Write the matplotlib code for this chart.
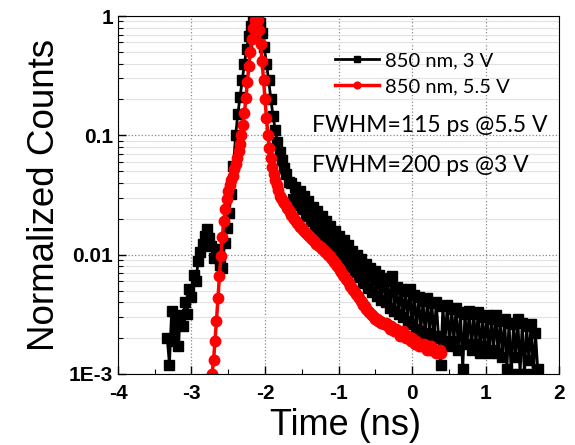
import numpy as np
import matplotlib.pyplot as plt
from matplotlib.ticker import FixedLocator, LogLocator, NullFormatter

plt.rcParams['font.family'] = ['Liberation Sans', 'DejaVu Sans']

# time grids (ns), constant bin width per trace
t_black_start, t_black_step = -3.33, 0.03
t_red_start, t_red_step = -2.72, 0.02

# 850 nm, 3 V  (normalized counts)
y_black = [
    0.0020, 0.0012, 0.0034, 0.0019, 0.0028, 0.0017, 0.0031, 0.0025, 0.0040, 0.0032,
    0.0052, 0.0044, 0.0068, 0.0060, 0.0088, 0.0105, 0.0122, 0.0142, 0.0165, 0.0138,
    0.0118, 0.0093, 0.0112, 0.0097, 0.0082, 0.0077, 0.0125, 0.0168, 0.0225, 0.0320,
    0.055, 0.100, 0.150, 0.210, 0.290, 0.400, 0.530, 0.680, 0.820, 0.950,
    1.000, 0.970, 0.880, 0.720, 0.550, 0.400, 0.290, 0.200, 0.145, 0.110,
    0.088, 0.073, 0.062, 0.053, 0.047, 0.041, 0.040, 0.029, 0.037, 0.026,
    0.034, 0.024, 0.031, 0.021, 0.028, 0.019, 0.025, 0.0175, 0.023, 0.0155,
    0.021, 0.0142, 0.0192, 0.0128, 0.0175, 0.0118, 0.0158, 0.0104, 0.0142, 0.0097,
    0.0132, 0.0086, 0.0120, 0.0079, 0.0108, 0.0071, 0.0100, 0.0065, 0.0092, 0.0058,
    0.0084, 0.0053, 0.0078, 0.0049, 0.0073, 0.0045, 0.0068, 0.0042, 0.0064, 0.0040,
    0.0060, 0.0036, 0.0066, 0.0034, 0.0054, 0.0032, 0.0052, 0.0030, 0.0050, 0.0028,
    0.0052, 0.0026, 0.0046, 0.0024, 0.0044, 0.0023, 0.0041, 0.0021, 0.0043, 0.0022,
    0.0039, 0.0020, 0.0040, 0.0021, 0.0012, 0.0037, 0.0019, 0.0038, 0.0017, 0.0035,
    0.0019, 0.0036, 0.0016, 0.0033, 0.0011, 0.0032, 0.0018, 0.0034, 0.0016, 0.0032,
    0.0018, 0.0033, 0.0015, 0.0030, 0.0017, 0.0031, 0.0015, 0.0029, 0.0016, 0.0031,
    0.0015, 0.0028, 0.0014, 0.0029, 0.0011, 0.0027, 0.0010, 0.0026, 0.0014, 0.0029,
    0.0010, 0.0027, 0.0010, 0.0025, 0.0013, 0.0026, 0.0010, 0.0022, 0.0011,
]

# 850 nm, 5.5 V  (normalized counts)
y_red = [
    0.0010, 0.0013, 0.0019, 0.0028, 0.0043, 0.0066, 0.0098, 0.0140, 0.0190, 0.0240,
    0.0290, 0.0340, 0.0380, 0.0420, 0.0460, 0.0520, 0.0580, 0.0650, 0.0740, 0.0850,
    0.100, 0.122, 0.155, 0.205, 0.280, 0.380, 0.500, 0.640, 0.800, 0.930,
    1.000, 0.920, 0.760, 0.580, 0.420, 0.290, 0.200, 0.140, 0.100, 0.078,
    0.064, 0.054, 0.047, 0.042, 0.038, 0.0345, 0.0310, 0.0296, 0.0283, 0.0271,
    0.0259, 0.0248, 0.0237, 0.0227, 0.0217, 0.0208, 0.0199, 0.0191, 0.0184, 0.0177,
    0.0171, 0.0166, 0.0161, 0.0156, 0.0151, 0.0147, 0.0143, 0.0139, 0.0135, 0.0131,
    0.0127, 0.0124, 0.0121, 0.0118, 0.0115, 0.0112, 0.0109, 0.0106, 0.0103, 0.0100,
    0.0097, 0.0093, 0.0090, 0.0086, 0.0083, 0.0080, 0.0077, 0.0074, 0.0071, 0.0068,
    0.0066, 0.0063, 0.0061, 0.0058, 0.0055, 0.0053, 0.0051, 0.0049, 0.0047, 0.0045,
    0.0043, 0.0041, 0.0040, 0.0038, 0.0037, 0.0035, 0.0034, 0.0033, 0.0032, 0.0031,
    0.0030, 0.0029, 0.0029, 0.0028, 0.0028, 0.0027, 0.0027, 0.0026, 0.0027, 0.0026,
    0.0025, 0.0024, 0.0025, 0.0024, 0.0023, 0.0024, 0.0023, 0.0022, 0.0021, 0.0022,
    0.0023, 0.0021, 0.0020, 0.0021, 0.0020, 0.0019, 0.0020, 0.0019, 0.0018, 0.0019,
    0.0018, 0.0017, 0.0018, 0.0017, 0.0018, 0.0017, 0.0016, 0.0017, 0.0016, 0.0017,
    0.0016, 0.0016, 0.0015, 0.0016, 0.0015, 0.0016, 0.0015,
]

t_black = t_black_start + t_black_step * np.arange(len(y_black))
t_red = t_red_start + t_red_step * np.arange(len(y_red))

x_ticks = [-4, -3, -2, -1, 0, 1, 2]
x_ticklabels = ['-4', '-3', '-2', '-1', '0', '1', '2']
y_ticks = [1e-3, 1e-2, 1e-1, 1]
y_ticklabels = ['1E-3', '0.01', '0.1', '1']

fig = plt.figure(figsize=(5.75, 4.45), dpi=100)
ax = fig.add_axes([0.2052, 0.1596, 0.7670, 0.8044])

ax.plot(t_black, y_black, 's-', color='k', ms=6.5, lw=2, label='850 nm, 3 V')
ax.plot(t_red, y_red, 'o-', color='r', ms=7.5, lw=2.5, label='850 nm, 5.5 V')

ax.set_yscale('log')
ax.set_xlim(-4, 2)
ax.set_ylim(1e-3, 1)
ax.set_xticks(x_ticks, labels=x_ticklabels, fontsize=15, fontweight='bold')
ax.xaxis.set_minor_locator(FixedLocator(np.arange(-3.5, 2, 1.0)))
ax.set_yticks(y_ticks, labels=y_ticklabels, fontsize=15, fontweight='bold')
ax.yaxis.set_minor_locator(LogLocator(base=10, subs=np.arange(2, 10)))
ax.yaxis.set_minor_formatter(NullFormatter())

ax.tick_params(which='both', direction='in', top=False, right=False)
ax.tick_params(which='major', length=6, width=1)
ax.tick_params(which='minor', length=3.5, width=0.8)
ax.tick_params(axis='x', pad=7)

ax.grid(which='major', axis='both', color='#888888', ls=':', lw=0.9)
ax.grid(which='minor', axis='y', color='#e2e2e2', ls='-', lw=0.8)
ax.set_axisbelow(True)

ax.set_xlabel('Time (ns)', fontsize=26, labelpad=0)
ax.xaxis.set_label_coords(0.517, -0.095)
ax.set_ylabel('Normalized Counts', fontsize=26.5, labelpad=5)

leg = ax.legend(loc='upper left', bbox_to_anchor=(0.45, 0.95), frameon=False,
                prop={'family': 'Lato', 'size': 14.5}, handlelength=2.2,
                handletextpad=0.3, labelspacing=0.45, markerscale=0.65)

ax.text(0.44, 0.694, 'FWHM=115 ps @5.5 V', transform=ax.transAxes,
        fontfamily='Lato', fontsize=16.5, va='center')
ax.text(0.44, 0.582, 'FWHM=200 ps @3 V', transform=ax.transAxes,
        fontfamily='Lato', fontsize=16.5, va='center')

fig.savefig('out.png', dpi=100)
